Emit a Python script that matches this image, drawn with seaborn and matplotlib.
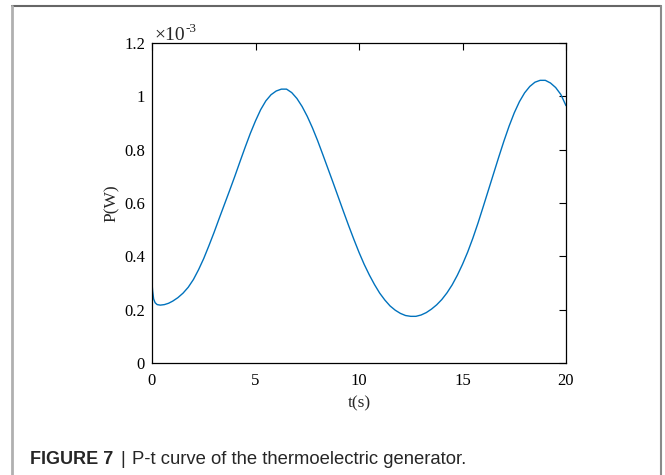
import numpy as np
import pandas as pd
import seaborn as sns
import matplotlib.pyplot as plt
from matplotlib.lines import Line2D

# values (t in s, P in units of 1e-3 W)
t_s = [0, 0.03, 0.08, 0.15, 0.25, 0.4, 0.6, 0.8, 1.0, 1.25, 1.5, 1.75, 2.0, 2.25,
       2.5, 2.75, 3.0, 3.25, 3.5, 3.75, 4.0, 4.25, 4.5, 4.75, 5.0, 5.25, 5.5, 5.75,
       6.0, 6.25, 6.5, 6.75, 7.0, 7.25, 7.5, 7.75, 8.0, 8.25, 8.5, 8.75, 9.0, 9.25,
       9.5, 9.75, 10.0, 10.25, 10.5, 10.75, 11.0, 11.25, 11.5, 11.75, 12.0, 12.25,
       12.5, 12.75, 13.0, 13.25, 13.5, 13.75, 14.0, 14.25, 14.5, 14.75, 15.0, 15.25,
       15.5, 15.75, 16.0, 16.25, 16.5, 16.75, 17.0, 17.25, 17.5, 17.75, 18.0, 18.25,
       18.5, 18.75, 19.0, 19.25, 19.5, 19.75, 20.0]
p_e3 = [0.30, 0.27, 0.24, 0.226, 0.219, 0.217, 0.219, 0.224, 0.232, 0.245, 0.262,
        0.284, 0.313, 0.350, 0.392, 0.44, 0.49, 0.543, 0.595, 0.647, 0.70, 0.755,
        0.809, 0.861, 0.908, 0.95, 0.983, 1.006, 1.02, 1.027, 1.027, 1.014, 0.992,
        0.962, 0.925, 0.882, 0.834, 0.782, 0.729, 0.676, 0.622, 0.568, 0.515, 0.464,
        0.415, 0.37, 0.33, 0.294, 0.262, 0.236, 0.214, 0.198, 0.186, 0.178, 0.175,
        0.175, 0.18, 0.189, 0.202, 0.218, 0.238, 0.263, 0.293, 0.329, 0.37, 0.416,
        0.468, 0.525, 0.586, 0.648, 0.71, 0.772, 0.832, 0.888, 0.938, 0.98, 1.013,
        1.037, 1.053, 1.06, 1.06, 1.05, 1.033, 1.007, 0.965]
x_ticks = [0, 5, 10, 15, 20]
y_ticks = [0, 0.2, 0.4, 0.6, 0.8, 1.0, 1.2]

df = pd.DataFrame({'t': t_s, 'P': np.array(p_e3) * 1e-3})

sns.set_style('white')
plt.rcParams['font.family'] = ['Liberation Serif', 'DejaVu Serif']

fig = plt.figure(figsize=(6.65, 4.75), dpi=100)
ax = fig.add_axes([152/665, 1-363/475, (566-152)/665, (363-43)/475])

sns.lineplot(data=df, x='t', y='P', ax=ax, color='#0072BD', linewidth=1.0)

ax.set_xlim(0, 20)
ax.set_ylim(0, 1.2e-3)
ax.set_xticks(x_ticks)
ax.set_xticklabels([str(v) for v in x_ticks])
ax.set_yticks([v*1e-3 for v in y_ticks])
ax.set_yticklabels([f'{v:g}' for v in y_ticks])
ax.tick_params(direction='in', length=5, width=0.8, top=True, right=True,
               labelsize=12, colors='black')
ax.tick_params(axis='x', pad=7)
ax.tick_params(axis='y', pad=5)
for s in ax.spines.values():
    s.set_color('black')
    s.set_linewidth(0.9)
ax.set_xlabel('t(s)', fontsize=12.5, labelpad=5)
ax.set_ylabel('P(W)', fontsize=12.5, labelpad=3)

# MATLAB style exponent above the y axis
fig.text(154/665, 1-40/475, '×10', fontsize=14, ha='left', va='baseline')
fig.text(186/665, 1-32/475, '-3', fontsize=9.5, ha='left', va='baseline')

# page frame
fig.add_artist(Line2D([12/665, 661/665], [1-6/475, 1-6/475], color='#666666', lw=1.5))
fig.add_artist(Line2D([12/665, 12/665], [0, 1-6/475], color='#b0b0b0', lw=2))
fig.add_artist(Line2D([661/665, 661/665], [0, 1-6/475], color='#8a8a8a', lw=1.5))

# caption
sans = ['Liberation Sans', 'DejaVu Sans']
fig.text(30/665, 1-459/475, 'FIGURE 7', fontsize=13, fontweight='bold',
         family=sans, va='center', ha='left')
fig.text(120/665, 1-459/475, '|', fontsize=13, family=sans, va='center', ha='left')
fig.text(132/665, 1-459/475, 'P-t curve of the thermoelectric generator.', fontsize=13.3,
         family=sans, va='center', ha='left')

fig.savefig('out.png', dpi=100)
